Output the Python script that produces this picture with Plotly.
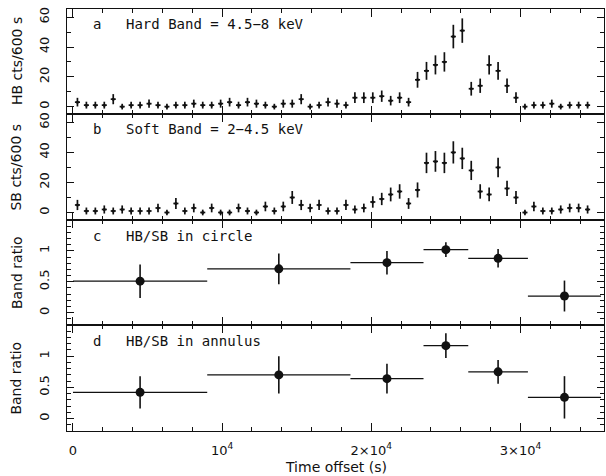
import plotly.graph_objects as go
from plotly.subplots import make_subplots

# ---------------- data ----------------
BIN_WIDTH_S = 600
N_BINS = 58
TIME = [BIN_WIDTH_S * (i + 0.5) for i in range(N_BINS)]  # bin centres (s)

HB_COUNTS = [3, 1, 1, 1, 5, 0, 1, 1, 2, 1,
             0, 1, 1, 2, 1, 1, 2, 3, 1, 3,
             2, 1, 0, 2, 2, 5, 0, 1, 3, 2,
             1, 6, 6, 6, 7, 4, 6, 3, 18, 24,
             28, 30, 47, 51, 12, 14, 28, 24, 14, 6,
             0, 1, 1, 2, 0, 1, 1, 1]
HB_ERR = [2.9, 2.3, 2.3, 2.3, 3.4, 1.9, 2.3, 2.3, 2.7, 2.3,
          1.9, 2.3, 2.3, 2.7, 2.3, 2.3, 2.7, 2.9, 2.3, 2.9,
          2.7, 2.3, 1.9, 2.7, 2.7, 3.4, 1.9, 2.3, 2.9, 2.7,
          2.3, 3.6, 3.6, 3.6, 3.8, 3.2, 3.6, 2.9, 5.3, 6.0,
          6.4, 6.5, 7.9, 8.2, 4.6, 4.8, 6.4, 6.0, 4.8, 3.6,
          1.9, 2.3, 2.3, 2.7, 1.9, 2.3, 2.3, 2.3]

SB_COUNTS = [5, 1, 1, 2, 1, 2, 1, 1, 1, 3,
             0, 6, 1, 3, 0, 3, 0, 0, 3, 1,
             0, 4, 1, 4, 10, 5, 3, 5, 1, 1,
             5, 2, 3, 7, 9, 12, 14, 6, 15, 33,
             34, 33, 40, 36, 28, 14, 12, 30, 16, 10,
             0, 4, 1, 1, 2, 3, 3, 2]
SB_ERR = [3.4, 2.3, 2.3, 2.7, 2.3, 2.7, 2.3, 2.3, 2.3, 2.9,
          1.9, 3.6, 2.3, 2.9, 1.9, 2.9, 1.9, 1.9, 2.9, 2.3,
          1.9, 3.2, 2.3, 3.2, 4.3, 3.4, 2.9, 3.4, 2.3, 2.3,
          3.4, 2.7, 2.9, 3.8, 4.1, 4.6, 4.8, 3.6, 5.0, 6.8,
          6.9, 6.8, 7.4, 7.1, 6.4, 4.8, 4.6, 6.5, 5.1, 4.3,
          1.9, 3.2, 2.3, 2.3, 2.7, 2.9, 2.9, 2.7]

RATIO_TIME = [4500, 13800, 21050, 25000, 28500, 32950]
RATIO_HALFWIDTH = [4500, 4800, 2450, 1500, 2000, 2450]

CIRCLE_RATIO = [0.51, 0.71, 0.81, 1.02, 0.88, 0.27]
CIRCLE_ERR = [0.27, 0.25, 0.19, 0.12, 0.15, 0.25]

ANNULUS_RATIO = [0.42, 0.70, 0.64, 1.17, 0.75, 0.34]
ANNULUS_ERR = [0.26, 0.30, 0.24, 0.20, 0.19, 0.34]

X_TICKS = [0, 10000, 20000, 30000]
X_TICK_TEXT = ["0", "10<sup>4</sup>", "2×10<sup>4</sup>", "3×10<sup>4</sup>"]

Y_TITLES = ["HB cts/600 s", "SB cts/600 s", "Band ratio", "Band ratio"]
PANEL_LETTERS = ["a", "b", "c", "d"]
PANEL_TEXTS = ["Hard Band = 4.5−8 keV", "Soft Band = 2−4.5 keV", "HB/SB in circle", "HB/SB in annulus"]

# ---------------- figure ----------------
INK = "#111111"
FONT = "DejaVu Sans"
LABEL_FONT = "DejaVu Sans Mono"

fig = make_subplots(rows=4, cols=1, shared_xaxes=True, vertical_spacing=0)


def lc_trace(y, err):
    return go.Scatter(
        x=TIME, y=y, mode="markers",
        marker=dict(size=3, color=INK),
        error_y=dict(type="data", array=err, width=0, thickness=1.7, color=INK),
        error_x=dict(type="constant", value=170, width=0, thickness=1.7, color=INK),
        hoverinfo="skip",
    )


def ratio_trace(y, err):
    return go.Scatter(
        x=RATIO_TIME, y=y, mode="markers",
        marker=dict(size=9, color=INK),
        error_y=dict(type="data", array=err, width=0, thickness=1.6, color=INK),
        error_x=dict(type="data", array=RATIO_HALFWIDTH, width=0, thickness=1.3, color=INK),
        hoverinfo="skip",
    )


fig.add_trace(lc_trace(HB_COUNTS, HB_ERR), row=1, col=1)
fig.add_trace(lc_trace(SB_COUNTS, SB_ERR), row=2, col=1)
fig.add_trace(ratio_trace(CIRCLE_RATIO, CIRCLE_ERR), row=3, col=1)
fig.add_trace(ratio_trace(ANNULUS_RATIO, ANNULUS_ERR), row=4, col=1)

# plot area: x 67..604 px, y 9..431 px (422 px tall)
domains = {1: [0.751, 1.0], 2: [0.5, 0.751], 3: [0.251, 0.5], 4: [0.0, 0.251]}

axis_common = dict(
    showline=True, linecolor=INK, linewidth=1.4, mirror="ticks",
    ticks="inside", tickcolor=INK, tickwidth=1.3, showgrid=False, zeroline=False,
    automargin=False,
)

for r in range(1, 5):
    fig.update_xaxes(
        range=[-400, 35600], tickvals=X_TICKS, ticktext=X_TICK_TEXT, ticklen=8,
        minor=dict(tick0=0, dtick=2000, ticks="inside", ticklen=4, tickcolor=INK, tickwidth=1.2),
        showticklabels=(r == 4), tickfont=dict(family=FONT, size=13, color=INK),
        ticklabelstandoff=7,
        row=r, col=1, **axis_common)

yt_font = dict(family=FONT, size=13, color=INK)

for r in (1, 2):
    fig.update_yaxes(range=[-5, 65.5], tickvals=[0, 20, 40, 60], ticklen=7,
                     minor=dict(tick0=0, dtick=10, ticks="inside", ticklen=4, tickcolor=INK, tickwidth=1.2),
                     tickangle=-90, tickfont=yt_font, ticklabelstandoff=12,
                     domain=domains[r], row=r, col=1, **axis_common)
for r in (3, 4):
    fig.update_yaxes(range=[-0.2, 1.5], tickvals=[0, 0.5, 1], ticktext=["0", "0.5", "1"], ticklen=7,
                     minor=dict(tick0=0, dtick=0.1, ticks="inside", ticklen=4, tickcolor=INK, tickwidth=1.2),
                     tickangle=-90, tickfont=yt_font, ticklabelstandoff=12,
                     domain=domains[r], row=r, col=1, **axis_common)

# y-axis titles as rotated annotations (x ~ 17 px from the left edge)
for r in range(1, 5):
    d = domains[r]
    fig.add_annotation(x=-0.094, y=(d[0] + d[1]) / 2, xref="paper", yref="paper",
                       text=Y_TITLES[r - 1], textangle=-90, showarrow=False,
                       xanchor="center", yanchor="middle",
                       font=dict(family=FONT, size=14, color=INK))

# x-axis title
fig.add_annotation(x=0.5, y=-0.085, xref="paper", yref="paper", text="Time offset (s)",
                   showarrow=False, xanchor="center", yanchor="middle",
                   font=dict(family=FONT, size=14, color=INK))

label_y = [0.964, 0.716, 0.462, 0.213]
for letter, text, yy in zip(PANEL_LETTERS, PANEL_TEXTS, label_y):
    fig.add_annotation(x=0.045, y=yy, xref="paper", yref="paper", text=letter, showarrow=False,
                       xanchor="left", yanchor="middle", font=dict(family=LABEL_FONT, size=14, color=INK))
    fig.add_annotation(x=0.106, y=yy, xref="paper", yref="paper", text=text, showarrow=False,
                       xanchor="left", yanchor="middle", font=dict(family=LABEL_FONT, size=14, color=INK))

fig.update_layout(
    width=606, height=476, margin=dict(l=67, r=2, t=9, b=45),
    paper_bgcolor="white", plot_bgcolor="white", showlegend=False,
    font=dict(family=FONT, color=INK),
)

fig.write_html("out.html", config={"displayModeBar": False},
               post_script="document.body.style.margin='0';document.body.style.overflow='hidden';")
